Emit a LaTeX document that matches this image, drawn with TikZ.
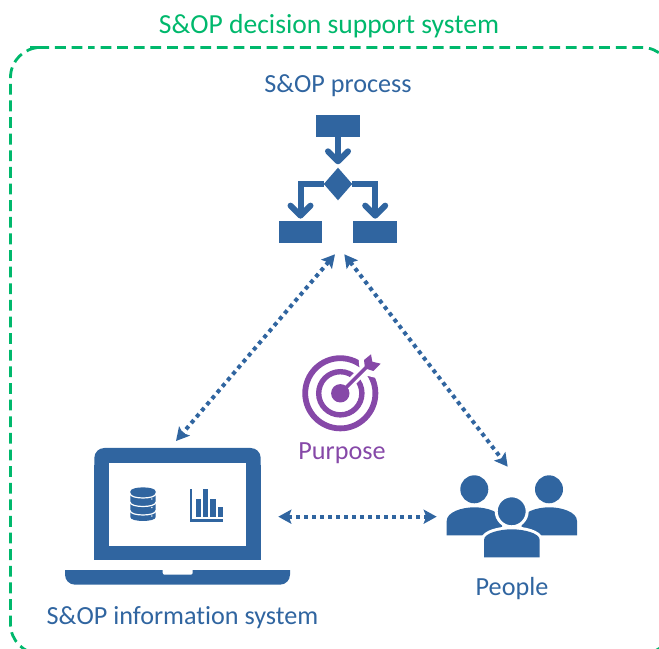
\documentclass[tikz,border=0pt]{standalone}
\usepackage{fontspec}
\setmainfont{Carlito}[Ligatures=CommonOff]
\usepackage{xcolor}
\usetikzlibrary{shapes,arrows.meta}
\usetikzlibrary{positioning}
\newcommand{\px}{0.025cm}
\definecolor{sop_blue}{RGB}{48,101,160}
\definecolor{sop_green}{RGB}{0,184,108}
\definecolor{sop_purple}{RGB}{134,72,168}

\begin{document}
\begin{tikzpicture}[x=0.025cm,y=-0.025cm,
	step_node/.style={rectangle,fill=sop_blue,inner sep=0pt,outer sep=0pt,minimum width=43.7*\px,minimum height=21.7*\px},
	decision_node/.style={diamond,fill=sop_blue,inner sep=0pt,outer sep=0pt,minimum width=28.4*\px,minimum height=32.6*\px},
	flow_edge/.style={draw=sop_blue,line width=6*\px,-{Straight Barb[length=10*\px,width=20*\px,line width=6*\px,round]}},
	link_edge/.style={draw=sop_blue,line width=4*\px,dash pattern=on 4*\px off 4*\px,{Stealth[length=13*\px,width=14*\px,inset=2.5*\px]}-{Stealth[length=13*\px,width=14*\px,inset=2.5*\px]}},
	head_node/.style={circle,fill=sop_blue,inner sep=0pt,outer sep=0pt,minimum size=28*\px},
	label_node/.style={text=sop_blue,font=\fontsize{18.6pt}{21pt}\selectfont},
	icon_fill/.style={fill=sop_blue}]
	\useasboundingbox (0,0) rectangle (659,649);
	\clip (0,0) rectangle (659,649);

	% frame
	\draw[sop_green,line width=2.8*\px,dash pattern=on 10.8*\px off 5.82*\px,dash phase=6.08*\px,rounded corners=30*\px] (60,47.5) -- (672,47.5) -- (672,654) -- (10.5,654) -- (10.5,47.5) -- cycle;
	\node[text=sop_green,font=\fontsize{19.6pt}{22pt}\selectfont] (title) at (329,26) {S\&OP decision support system};

	% process
	\node[label_node] (process_label) at (338,85.5) {S\&OP process};
	\node[step_node] (step_top) at (338,126.2) {};
	\node[decision_node] (decision) at (338,184) {};
	\node[step_node] (step_left) at (300.5,231.8) {};
	\node[step_node] (step_right) at (375.2,231.8) {};
	\draw[flow_edge,shorten >=3.4*\px] (step_top) -- (decision);
	\draw[flow_edge,shorten >=2.3*\px] (decision.west) -| (step_left);
	\draw[flow_edge,shorten >=2.3*\px] (decision.east) -| (step_right);

	% laptop
	\fill[icon_fill,rounded corners=10*\px] (94.3,448) rectangle (260.7,490);
	\fill[icon_fill] (94.3,465) rectangle (260.7,560.3);
	\fill[white] (109,462.7) rectangle (246,545.7);
	\fill[icon_fill,rounded corners=10*\px] (65,560) rectangle (290,584.7);
	\fill[white] (60,555) rectangle (295,570);
	\fill[icon_fill] (94.3,555) rectangle (260.7,560.3);
	\fill[white,rounded corners=2*\px] (162.7,565) rectangle (192.7,574.7);

	% database
	\fill[icon_fill] (130.3,491.5) .. controls (130.3,486) and (155.7,486) .. (155.7,491.5) -- (155.7,517) .. controls (155.7,522.3) and (130.3,522.3) .. (130.3,517) -- cycle;
	\foreach \ydisc in {493.5,502,510.5}{
		\draw[white,line width=1.2*\px] (130,\ydisc) .. controls (130,\ydisc+6) and (156,\ydisc+6) .. (156,\ydisc);
		\fill[white] (151.8,\ydisc+5.5) circle [radius=0.8];
	}

	% chart
	\fill[icon_fill] (189.7,488.7) rectangle (192.3,522);
	\fill[icon_fill] (189.7,519) rectangle (223.3,522);
	\foreach \xbar/\ybar in {195.7/499,203/488.7,210.3/499,217.7/507.3}{
		\fill[icon_fill] (\xbar,\ybar) rectangle (\xbar+5.3,517);
	}

	% people
	\node[head_node] (head_left) at (474.3,489.3) {};
	\node[head_node] (head_right) at (549,489.3) {};
	\fill[icon_fill] (446.7,535.3) -- (446.7,521) .. controls (446.7,512) and (462,507.3) .. (474.3,507.3) .. controls (487,507.3) and (502,512) .. (502,521) -- (502,535.3) -- cycle;
	\fill[icon_fill] (577,535.3) -- (577,521) .. controls (577,512) and (561.7,507.3) .. (549.4,507.3) .. controls (536.7,507.3) and (521.7,512) .. (521.7,521) -- (521.7,535.3) -- cycle;
	\draw[white,line width=6*\px,fill=white] (484,557.3) -- (484,540) .. controls (484,533) and (500,529.3) .. (511.8,529.3) .. controls (523.6,529.3) and (539.7,533) .. (539.7,540) -- (539.7,557.3) -- cycle;
	\fill[icon_fill] (484,557.3) -- (484,540) .. controls (484,533) and (500,529.3) .. (511.8,529.3) .. controls (523.6,529.3) and (539.7,533) .. (539.7,540) -- (539.7,557.3) -- cycle;
	\node[head_node,draw=white,line width=3*\px,minimum size=31*\px] (head_center) at (511.7,511.3) {};
	\node[label_node] (people_label) at (512,589) {People};
	\node[label_node] (system_label) at (182.5,618) {S\&OP information system};

	% purpose
	\draw[sop_purple,line width=5.8*\px] (340.3,393.3) circle [radius=35.1];
	\draw[sop_purple,line width=5.4*\px] (340.3,393.3) circle [radius=21.6];
	\draw[white,line width=9*\px] (340.3,393.3) -- (376,357.6);
	\fill[white] (358,352) -- (374,344) -- (388,365) -- (376,378) -- (360,374) -- cycle;
	\fill[sop_purple] (340.3,393.3) circle [radius=9.2];
	\draw[sop_purple,line width=3.6*\px] (340.3,393.3) -- (369,364.6);
	\fill[sop_purple] (364,360) -- (371,354.3) -- (372.3,361.7) -- (380.7,363.7) -- (373.3,371) -- (365,368.3) -- cycle;
	\node[text=sop_purple,font=\fontsize{18.6pt}{21pt}\selectfont] (purpose_label) at (342,453.5) {Purpose};

	% links
	\coordinate (process_sw) at (335,254.3);
	\coordinate (process_se) at (344.3,254.3);
	\coordinate (laptop_top) at (176,441);
	\coordinate (laptop_right) at (278.3,516.7);
	\coordinate (people_top) at (507.7,466.7);
	\coordinate (people_left) at (436.7,516.7);
	\draw[link_edge] (process_sw) -- (laptop_top);
	\draw[link_edge] (process_se) -- (people_top);
	\draw[link_edge] (laptop_right) -- (people_left);
\end{tikzpicture}
\end{document}
